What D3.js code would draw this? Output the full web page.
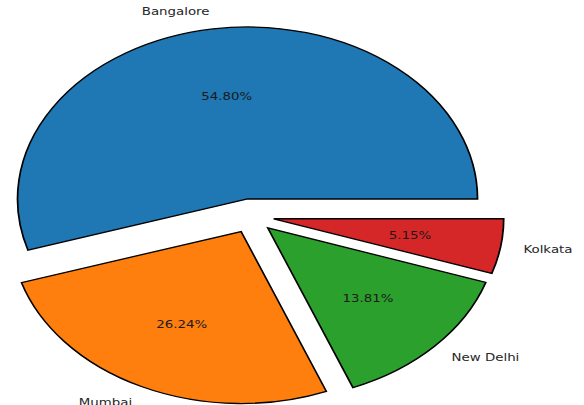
<!DOCTYPE html>
<html>
<head>
<meta charset="utf-8">
<script src="https://cdn.jsdelivr.net/npm/d3@7"></script>
<style>
  html, body { margin:0; padding:0; background:#fff; }
  svg { display:block; }
  text { font-family:"DejaVu Sans", sans-serif; }
</style>
</head>
<body>
<div id="plot"></div>
<script>
// city shares (percent)
var cities = ['Bangalore','Mumbai','New Delhi','Kolkata'];
var shares = [54.80, 26.24, 13.81, 5.15];
var explode = [0.1, 0.1, 0.1, 0.1];
var colors = ['#1f77b4','#ff7f0e','#2ca02c','#d62728'];

var W = 584, H = 405,
	r = 172,            // vertical radius
	sx = 230/172,       // figure was stretched sideways
	cx = 251, cy = 216;

var svg = d3.select('#plot')
	.append('svg')
	.attr('width',W)
	.attr('height',H);

var plot = svg.append('g')
	.attr('transform','translate('+cx+','+cy+') scale('+sx+',1)');

var rows = cities.map(function(c,i){ return {city:c, value:shares[i], ex:explode[i], color:colors[i]}; });
var total = d3.sum(shares);

// matplotlib style: start at 3 o'clock and go counterclockwise
var pie = d3.pie()
	.sort(null)
	.value(function(d){ return d.value; })
	.startAngle(Math.PI/2)
	.endAngle(Math.PI/2 - 2*Math.PI);

var arc = d3.arc().innerRadius(0).outerRadius(r);

var slices = plot.selectAll('g.slice')
	.data(pie(rows))
	.enter()
	.append('g')
	.attr('class','slice')
	.attr('transform',function(d){
		var a = (d.startAngle + d.endAngle)/2, off = d.data.ex*r;
		return 'translate('+(off*Math.sin(a))+','+(-off*Math.cos(a))+')';
	});

slices.append('path')
	.attr('d',arc)
	.style('fill',function(d){ return d.data.color; })
	.style('stroke','#000')
	.style('stroke-width',1.3)
	.style('stroke-linejoin','miter');

// outer labels at 1.1 r
slices.append('text')
	.attr('x',function(d){ return 1.1*r*Math.sin((d.startAngle+d.endAngle)/2); })
	.attr('y',function(d){ return -1.1*r*Math.cos((d.startAngle+d.endAngle)/2); })
	.attr('text-anchor',function(d){ return Math.sin((d.startAngle+d.endAngle)/2) > 0 ? 'start' : 'end'; })
	.attr('dominant-baseline','central')
	.style('font-size','10px')
	.style('fill','#262626')
	.text(function(d){ return d.data.city; });

// percentages at 0.6 r
slices.append('text')
	.attr('x',function(d){ return 0.6*r*Math.sin((d.startAngle+d.endAngle)/2); })
	.attr('y',function(d){ return -0.6*r*Math.cos((d.startAngle+d.endAngle)/2); })
	.attr('text-anchor','middle')
	.attr('dominant-baseline','central')
	.style('font-size','10px')
	.style('fill','#1a1a1a')
	.text(function(d){ return d3.format('.2f')(d.data.value/total*100)+'%'; });
</script>
</body>
</html>
